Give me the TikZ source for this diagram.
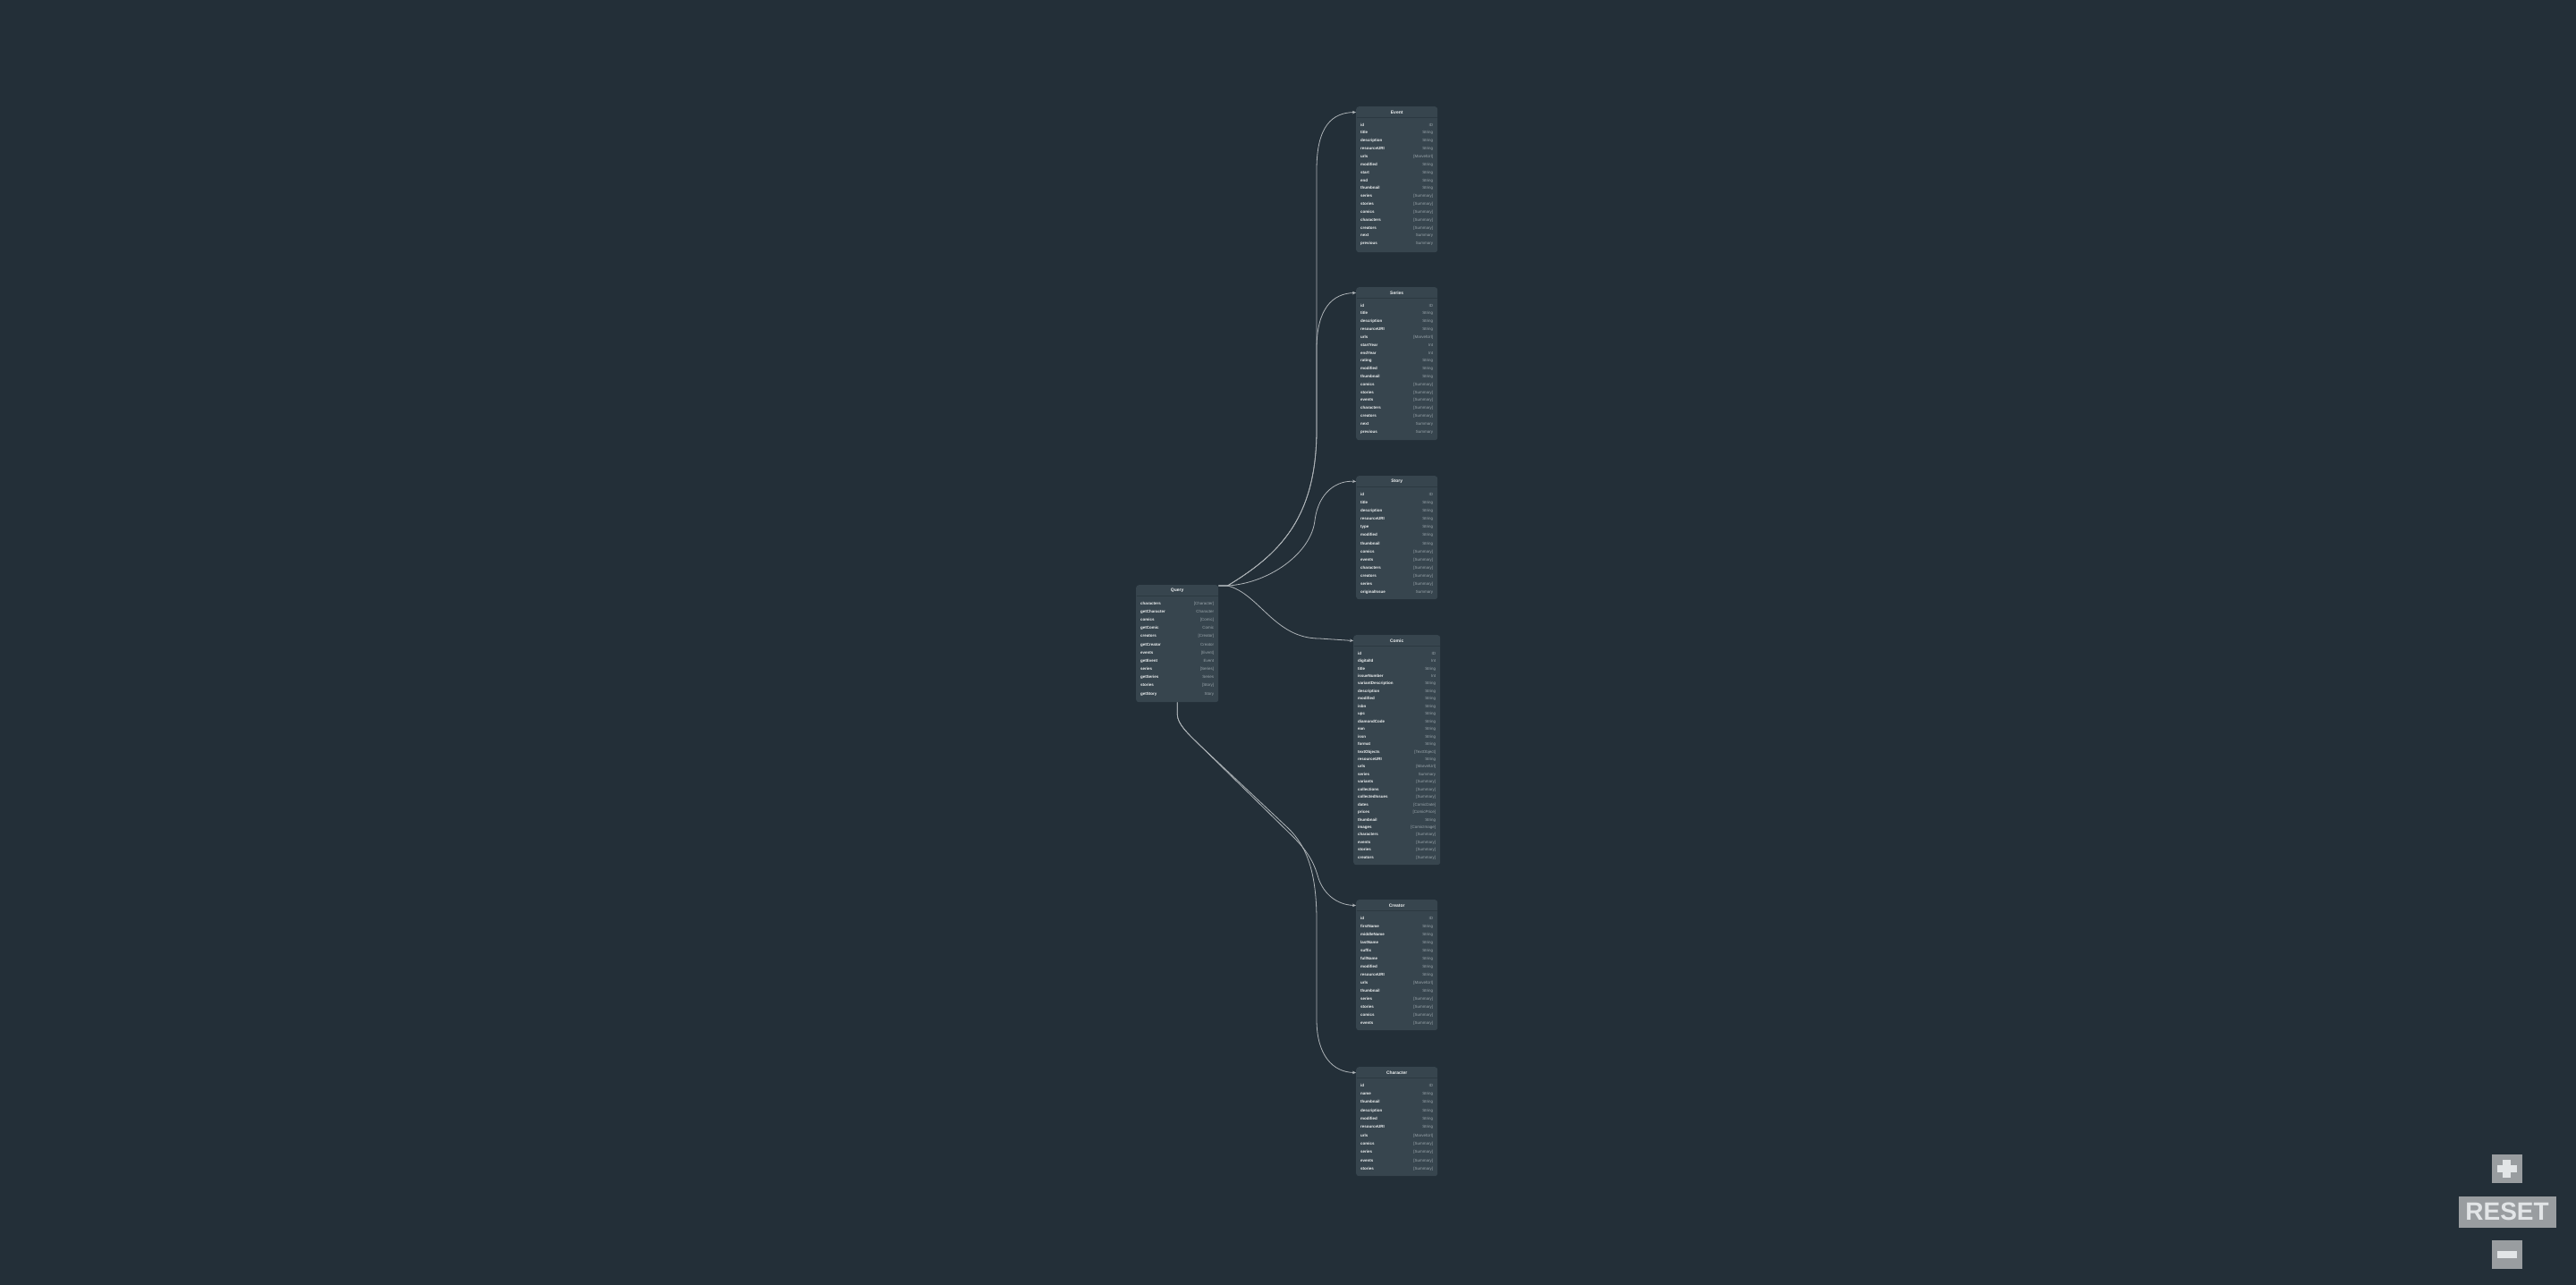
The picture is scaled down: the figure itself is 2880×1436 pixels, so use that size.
\documentclass[tikz,border=0pt]{standalone}
\usepackage{fontspec}
\setmainfont{Liberation Sans}
\usetikzlibrary{arrows.meta}

\definecolor{bgc}{HTML}{232F38}
\definecolor{boxc}{HTML}{37454E}
\definecolor{sepc}{HTML}{2C3941}
\definecolor{namec}{HTML}{EEF1F2}
\definecolor{typec}{HTML}{9BA6AC}
\definecolor{linkc}{HTML}{AEB4B8}
\definecolor{btnc}{HTML}{999DA0}
\definecolor{btntext}{HTML}{E2E5E7}

\tikzset{
  tbox/.style={fill=boxc, rounded corners=3pt, inner sep=0pt, anchor=north west},
  tsep/.style={draw=sepc, line width=0.8pt},
  ttitle/.style={text=namec, font=\fontsize{5}{6}\selectfont\bfseries, inner sep=0pt},
  fname/.style={anchor=mid west, text=namec, font=\fontsize{4.5}{5}\selectfont\bfseries, inner sep=0pt},
  ftype/.style={anchor=mid east, text=typec, font=\fontsize{4.5}{5}\selectfont, inner sep=0pt},
  link/.style={draw=linkc, line width=0.8pt, -{Stealth[length=4pt,width=3.5pt]}},
  btn/.style={fill=btnc, inner sep=0pt},
}

% name, left, top, width, height, row step, fields
\newcommand{\gqltable}[7]{%
  \node[tbox, minimum width=#4pt, minimum height=#5pt] (#1) at (#2,#3) {};
  \draw[tsep] ([shift={(0.5,12)}]#1.north west) -- ([shift={(-0.5,12)}]#1.north east);
  \node[ttitle] (#1-head) at ([shift={(0,6.5)}]#1.north) {#1};
  \foreach \fn/\ft [count=\i] in {#7} {
    \pgfmathsetmacro{\ry}{19.5+(\i-1)*#6}
    \node[fname] (#1-\fn) at ([shift={(5,\ry)}]#1.north west) {\fn};
    \node[ftype] at ([shift={(-5,\ry)}]#1.north east) {\ft};
  }
}

\begin{document}
\begin{tikzpicture}[x=1pt, y=-1pt]
  % Background
  \useasboundingbox (0,0) rectangle (2880,1436);
  \fill[bgc] (-1,-1) rectangle (2881,1437);

  % Tables
  \gqltable{Query}{1270}{654}{92}{131}{9.18}{characters/[Character], getCharacter/Character, comics/[Comic], getComic/Comic, creators/[Creator], getCreator/Creator, events/[Event], getEvent/Event, series/[Series], getSeries/Series, stories/[Story], getStory/Story}
  \gqltable{Event}{1516}{119}{91}{163}{8.84}{id/ID, title/String, description/String, resourceURI/String, urls/[MarvelUrl], modified/String, start/String, end/String, thumbnail/String, series/[Summary], stories/[Summary], comics/[Summary], characters/[Summary], creators/[Summary], next/Summary, previous/Summary}
  \gqltable{Series}{1516}{321}{91}{171}{8.82}{id/ID, title/String, description/String, resourceURI/String, urls/[MarvelUrl], startYear/Int, endYear/Int, rating/String, modified/String, thumbnail/String, comics/[Summary], stories/[Summary], events/[Summary], characters/[Summary], creators/[Summary], next/Summary, previous/Summary}
  \gqltable{Story}{1516}{532}{91}{138}{9.15}{id/ID, title/String, description/String, resourceURI/String, type/String, modified/String, thumbnail/String, comics/[Summary], events/[Summary], characters/[Summary], creators/[Summary], series/[Summary], originalIssue/Summary}
  \gqltable{Comic}{1513}{710}{97}{257}{8.45}{id/ID, digitalId/Int, title/String, issueNumber/Int, variantDescription/String, description/String, modified/String, isbn/String, upc/String, diamondCode/String, ean/String, issn/String, format/String, textObjects/[TextObject], resourceURI/String, urls/[MarvelUrl], series/Summary, variants/[Summary], collections/[Summary], collectedIssues/[Summary], dates/[ComicDate], prices/[ComicPrice], thumbnail/String, images/[ComicImage], characters/[Summary], events/[Summary], stories/[Summary], creators/[Summary]}
  \gqltable{Creator}{1516}{1006}{91}{146}{9.03}{id/ID, firstName/String, middleName/String, lastName/String, suffix/String, fullName/String, modified/String, resourceURI/String, urls/[MarvelUrl], thumbnail/String, series/[Summary], stories/[Summary], comics/[Summary], events/[Summary]}
  \gqltable{Character}{1516}{1193}{91}{122}{9.35}{id/ID, name/String, thumbnail/String, description/String, modified/String, resourceURI/String, urls/[MarvelUrl], comics/[Summary], series/[Summary], events/[Summary], stories/[Summary]}

  % Links from the top of Query
  \draw[link] ([yshift=-1pt]Query.north east) -- ++(10,0) .. controls (1430,620) and (1472,580) .. (1472,480) -- (1472,190) .. controls (1472,140) and (1490,126) .. (Event-head -| Event.west);
  \draw[link] ([yshift=-1pt]Query.north east) -- ++(10,0) .. controls (1430,620) and (1472,580) .. (1472,480) -- (1472,390) .. controls (1472,345) and (1490,328) .. (Series-head -| Series.west);
  \draw[link] ([yshift=-1pt]Query.north east) -- ++(10,0) .. controls (1420,652) and (1466,618) .. (1470,582) .. controls (1474,550) and (1495,537) .. (Story-head -| Story.west);
  \draw[link] ([yshift=-1pt]Query.north east) -- ++(10,0) .. controls (1408,664) and (1425,714) .. (1475,714) -- (Comic-head -| Comic.west);

  % Links from the bottom of Query
  \draw[link] (Query.south) -- ++(0,13) .. controls (1316,810) and (1330,822) .. (1340,832) -- (1445,935) .. controls (1465,955) and (1470,968) .. (1474,982) .. controls (1480,1000) and (1495,1012) .. (Creator-head -| Creator.west);
  \draw[link] (Query.south) -- ++(0,13) .. controls (1316,810) and (1330,822) .. (1340,832) -- (1440,926) .. controls (1463,948) and (1472,980) .. (1472,1030) -- (1472,1140) .. controls (1472,1180) and (1490,1199) .. (Character-head -| Character.west);

  % Zoom buttons
  \node[btn, minimum width=34pt, minimum height=32pt] (zoomin) at (2802.5,1307) {};
  \fill[btntext] ([shift={(-11,-4)}]zoomin.center) rectangle ([shift={(11,4)}]zoomin.center);
  \fill[btntext] ([shift={(-4.5,-10)}]zoomin.center) rectangle ([shift={(4.5,10)}]zoomin.center);
  \node[btn, minimum width=109pt, minimum height=35pt, text=btntext, font=\fontsize{28}{30}\selectfont\bfseries] (reset) at (2803,1355) {RESET};
  \node[btn, minimum width=34pt, minimum height=32pt] (zoomout) at (2802.5,1403) {};
  \fill[btntext] ([shift={(-11,-4)}]zoomout.center) rectangle ([shift={(11,4)}]zoomout.center);
\end{tikzpicture}
\end{document}
